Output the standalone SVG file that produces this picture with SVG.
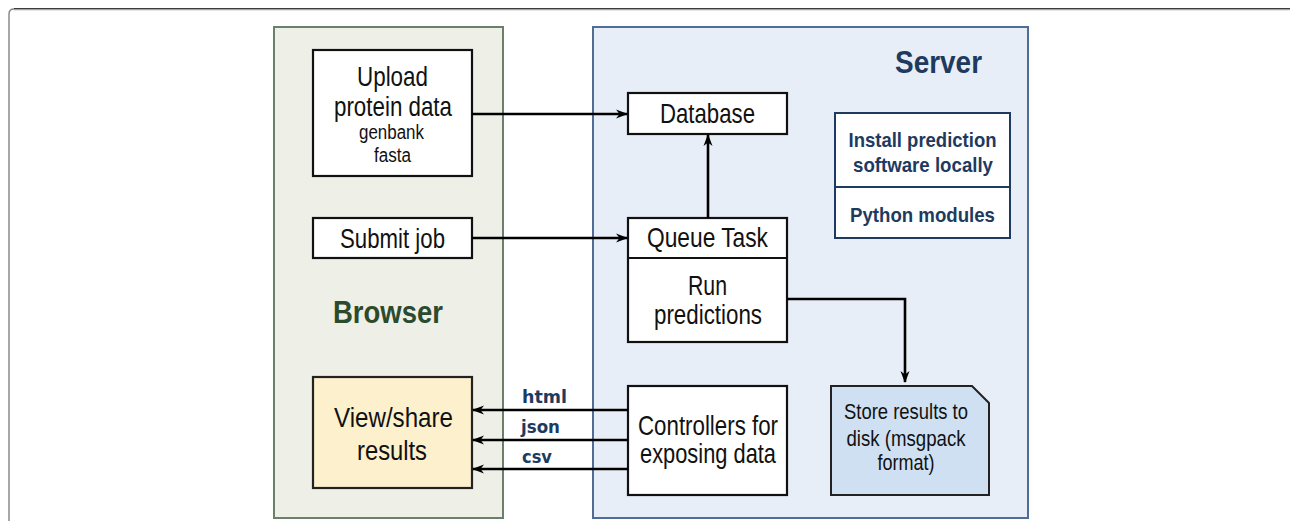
<svg xmlns="http://www.w3.org/2000/svg" width="1290" height="521" viewBox="0 0 1290 521">
<style>
.t{font-family:"Liberation Sans",Arial,sans-serif;fill:#111;text-anchor:middle}
.big{font-size:27.5px}
.small{font-size:20px}
.mid{font-size:22px}
.navy{font-family:"Liberation Sans",Arial,sans-serif;font-weight:bold;fill:#1e3a5f;text-anchor:middle}
.fmt{font-family:"DejaVu Sans",sans-serif;font-weight:bold;font-size:17px;fill:#1e3a5f}
.box{fill:#fff;stroke:#111;stroke-width:2.2}
.conn{fill:none;stroke:#000;stroke-width:2.6}
</style>
<defs>
<marker id="ah" viewBox="0 0 12 10" refX="11" refY="5" markerWidth="12" markerHeight="10" markerUnits="userSpaceOnUse" orient="auto">
<path d="M0,0.5 L12,5 L0,9.5 L3.5,5 Z" fill="#000"/>
</marker>
</defs>
<rect width="1290" height="521" fill="#fff"/>
<g id="frame">
<path d="M9,521 L9,14 Q9,9 14,9" fill="none" stroke="#8a8a8a" stroke-width="1.5"/>
<path d="M14,8.8 L1290,8.8" fill="none" stroke="#3c3c3c" stroke-width="1.5"/>
<path d="M14,10.4 L1290,10.4" fill="none" stroke="#e2e2e2" stroke-width="1"/>
</g>
<g id="browser">
<rect x="274" y="27" width="229" height="491" fill="#eef0e8" stroke="#6b806a" stroke-width="2"/>
<text class="navy" x="388" y="323" font-size="31" textLength="110" lengthAdjust="spacingAndGlyphs" style="fill:#2c4a2c">Browser</text>
</g>
<g id="server">
<rect x="593" y="27" width="435" height="491" fill="#e8eef7" stroke="#4f6e96" stroke-width="2"/>
<text class="navy" x="938.5" y="73" font-size="32" textLength="87" lengthAdjust="spacingAndGlyphs">Server</text>
</g>
<g id="upload">
<rect class="box" x="313" y="50" width="159" height="126"/>
<text class="t big" x="392.5" y="86" textLength="71" lengthAdjust="spacingAndGlyphs">Upload</text>
<text class="t big" x="393" y="116" textLength="118" lengthAdjust="spacingAndGlyphs">protein data</text>
<text class="t small" x="391.5" y="139" textLength="65" lengthAdjust="spacingAndGlyphs">genbank</text>
<text class="t small" x="392.5" y="162" textLength="37" lengthAdjust="spacingAndGlyphs">fasta</text>
</g>
<g id="submit">
<rect class="box" x="313" y="218" width="159" height="40"/>
<text class="t big" x="392.5" y="248" textLength="105" lengthAdjust="spacingAndGlyphs">Submit job</text>
</g>
<g id="view">
<rect x="313" y="377" width="159" height="111" fill="#fdf0cc" stroke="#222" stroke-width="2.2"/>
<text class="t big" x="393.5" y="427" textLength="119" lengthAdjust="spacingAndGlyphs">View/share</text>
<text class="t big" x="392" y="460" textLength="70" lengthAdjust="spacingAndGlyphs">results</text>
</g>
<g id="database">
<rect class="box" x="628" y="93" width="159" height="41"/>
<text class="t big" x="707.5" y="123" textLength="95" lengthAdjust="spacingAndGlyphs">Database</text>
</g>
<g id="queue">
<rect class="box" x="628" y="218" width="159" height="124"/>
<line x1="628" y1="258" x2="787" y2="258" stroke="#111" stroke-width="2.2"/>
<text class="t big" x="707.5" y="247" textLength="121" lengthAdjust="spacingAndGlyphs">Queue Task</text>
<text class="t big" x="707.5" y="295" textLength="39" lengthAdjust="spacingAndGlyphs">Run</text>
<text class="t big" x="708" y="324" textLength="108" lengthAdjust="spacingAndGlyphs">predictions</text>
</g>
<g id="controllers">
<rect class="box" x="628" y="386" width="159" height="109"/>
<text class="t big" x="708" y="435" textLength="140" lengthAdjust="spacingAndGlyphs">Controllers for</text>
<text class="t big" x="708" y="463" textLength="136" lengthAdjust="spacingAndGlyphs">exposing data</text>
</g>
<g id="install">
<rect x="835" y="113" width="175" height="125" fill="#fff" stroke="#1e3a5f" stroke-width="2"/>
<line x1="835" y1="187" x2="1010" y2="187" stroke="#1e3a5f" stroke-width="2"/>
<text class="navy" x="922.5" y="147" font-size="21" textLength="148" lengthAdjust="spacingAndGlyphs">Install prediction</text>
<text class="navy" x="923" y="172" font-size="21" textLength="140" lengthAdjust="spacingAndGlyphs">software locally</text>
<text class="navy" x="922.5" y="222" font-size="21" textLength="145" lengthAdjust="spacingAndGlyphs">Python modules</text>
</g>
<g id="store">
<path d="M831,386 L972,386 L989,403 L989,495 L831,495 Z" fill="#cfe0f2" stroke="#222" stroke-width="2"/>
<text class="t mid" x="906" y="419" textLength="124" lengthAdjust="spacingAndGlyphs">Store results to</text>
<text class="t mid" x="906" y="446" textLength="119" lengthAdjust="spacingAndGlyphs">disk (msgpack</text>
<text class="t mid" x="906" y="470" textLength="57" lengthAdjust="spacingAndGlyphs">format)</text>
</g>
<g id="connectors">
<path class="conn" d="M472,114 L627,114" marker-end="url(#ah)"/>
<path class="conn" d="M472,238 L627,238" marker-end="url(#ah)"/>
<path class="conn" d="M708,218 L708,135" marker-end="url(#ah)"/>
<path class="conn" d="M787,299 L905,299 L905,382" marker-end="url(#ah)"/>
<path class="conn" d="M628,410 L473,410" marker-end="url(#ah)"/>
<path class="conn" d="M628,440 L473,440" marker-end="url(#ah)"/>
<path class="conn" d="M628,469 L473,469" marker-end="url(#ah)"/>
<text class="fmt" x="522" y="403" textLength="45" lengthAdjust="spacingAndGlyphs">html</text>
<text class="fmt" x="521" y="433" textLength="39" lengthAdjust="spacingAndGlyphs">json</text>
<text class="fmt" x="522" y="463" textLength="30" lengthAdjust="spacingAndGlyphs">csv</text>
</g>
</svg>
